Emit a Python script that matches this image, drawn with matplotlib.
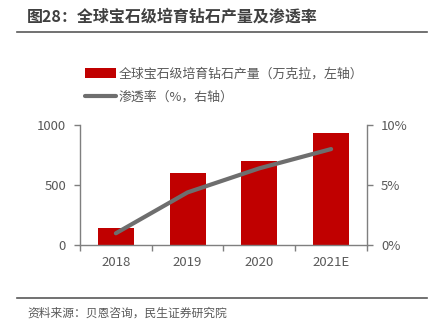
import matplotlib
matplotlib.use("Agg")
import matplotlib.pyplot as plt
from matplotlib.lines import Line2D
from matplotlib.patches import Patch

plt.rcParams['font.family'] = ['Noto Sans CJK SC', 'DejaVu Sans']

categories = ["2018", "2019", "2020", "2021E"]
production = [140, 600, 700, 930]
penetration = [1.0, 4.4, 6.4, 8.0]
left_ticks = [0, 500, 1000]
right_ticks = [0, 5, 10]
right_labels = ["0%", "5%", "10%"]

red = "#C00000"
gray_line = "#6E6E6E"
txt = "#595959"
axis_col = "#7F7F7F"

W, H = 435, 329
fig = plt.figure(figsize=(W/100, H/100), dpi=100)
fig.patch.set_facecolor("white")

ax = fig.add_axes([80/W, 1-245.3/H, 287/W, 120.3/H])
x = list(range(len(categories)))
ax.bar(x, production, width=0.5, color=red, zorder=2)
ax.set_xlim(-0.5, len(categories)-0.5)
ax.set_ylim(0, 1000)
ax.set_yticks(left_ticks)
ax.set_yticklabels([str(v) for v in left_ticks])
ax.set_xticks(x)
ax.set_xticklabels(categories)
ax.tick_params(axis='x', length=0, pad=8, labelsize=9.5, colors=txt)
ax.tick_params(axis='y', length=4, width=1, color=axis_col, labelsize=9.5, labelcolor=txt, pad=6)
# category separators
ax.set_xticks([i - 0.5 for i in range(len(categories)+1)], minor=True)
ax.tick_params(axis='x', which='minor', length=4, width=1, color=axis_col)
for s in ['top', 'right']:
    ax.spines[s].set_visible(False)
for s in ['left', 'bottom']:
    ax.spines[s].set_color(axis_col)
    ax.spines[s].set_linewidth(1)

ax2 = ax.twinx()
ax2.plot(x, penetration, color=gray_line, lw=3, solid_capstyle='round', zorder=3)
ax2.set_ylim(0, 10)
ax2.set_yticks(right_ticks)
ax2.set_yticklabels(right_labels)
ax2.tick_params(axis='y', length=4, width=1, color=axis_col, labelsize=9.5, labelcolor=txt, pad=6)
for s in ['top', 'left', 'bottom']:
    ax2.spines[s].set_visible(False)
ax2.spines['right'].set_color(axis_col)
ax2.spines['right'].set_linewidth(1)

# legend
handles = [Patch(facecolor=red, edgecolor='none'),
           Line2D([0], [0], color=gray_line, lw=3, solid_capstyle='round')]
labels = ["全球宝石级培育钻石产量（万克拉，左轴）", "渗透率（%，右轴）"]
fig.legend(handles, labels, loc='upper left', bbox_to_anchor=(80/W, 1-62/H),
           frameon=False, fontsize=9.3, labelcolor=txt, handlelength=2.4,
           handleheight=0.8, handletextpad=0.2, labelspacing=0.78, borderaxespad=0)

# title and source
fig.text(27/W, 1-17/H, "图28：全球宝石级培育钻石产量及渗透率", fontsize=11.5,
         fontweight='bold', color="#404040", va='center', ha='left')
fig.add_artist(Line2D([17/W, 427/W], [1-32/H, 1-32/H], color="#595959", lw=1.2))
fig.add_artist(Line2D([17/W, 427/W], [1-298/H, 1-298/H], color="#595959", lw=1.2))
fig.text(27/W, 1-313/H, "资料来源：贝恩咨询，民生证券研究院", fontsize=8.5,
         color=txt, va='center', ha='left')

fig.savefig("out.png", dpi=100, facecolor="white")
